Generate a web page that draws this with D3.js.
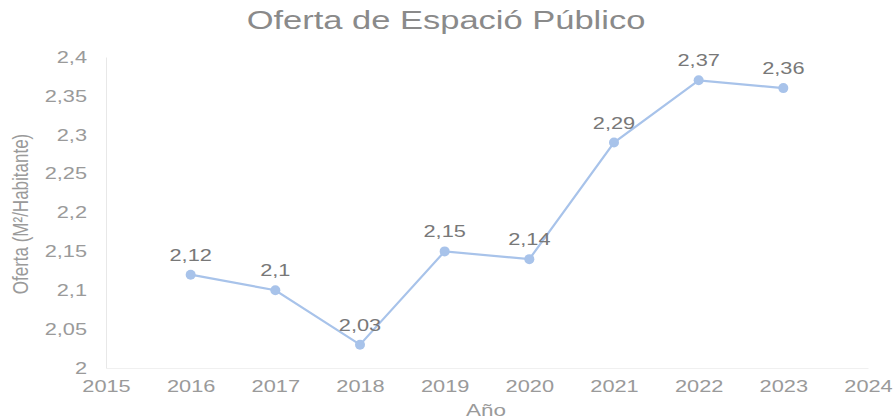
<!DOCTYPE html>
<html>
<head>
<meta charset="utf-8">
<script src="https://cdn.jsdelivr.net/npm/d3@7"></script>
<style>
  body { margin: 0; background: #fff; }
  text { font-family: "Liberation Sans", Arial, sans-serif; }
</style>
</head>
<body>
<div id="wrapper"></div>
<script>
// values
const years = [2016, 2017, 2018, 2019, 2020, 2021, 2022, 2023]
const oferta = [2.12, 2.1, 2.03, 2.15, 2.14, 2.29, 2.37, 2.36]
const yTicks = [2, 2.05, 2.1, 2.15, 2.2, 2.25, 2.3, 2.35, 2.4]
const xTicks = [2015, 2016, 2017, 2018, 2019, 2020, 2021, 2022, 2023, 2024]

const dataset = years.map((y, i) => ({ year: y, value: oferta[i] }))
const fmt = v => String(v).replace(".", ",")

// text in the picture is drawn a bit wide
const sx = 1.32

const dimensions = {
  width: 893,
  height: 418,
  margin: { top: 57, right: 25, bottom: 50, left: 106 },
}
dimensions.boundedWidth = dimensions.width - dimensions.margin.left - dimensions.margin.right
dimensions.boundedHeight = dimensions.height - dimensions.margin.top - dimensions.margin.bottom

const wrapper = d3.select("#wrapper")
  .append("svg")
  .attr("width", dimensions.width)
  .attr("height", dimensions.height)

const bounds = wrapper.append("g")
  .attr("transform", `translate(${dimensions.margin.left}, ${dimensions.margin.top})`)

const xScaler = d3.scaleLinear()
  .domain([2015, 2024])
  .range([0, 762])

const yScaler = d3.scaleLinear()
  .domain([2, 2.4])
  .range([dimensions.boundedHeight, 0])

// axes
const xAxis = bounds.append("g")
  .attr("transform", `translate(0, ${dimensions.boundedHeight})`)
  .call(d3.axisBottom(xScaler).tickValues(xTicks).tickFormat(d3.format("d")).tickSize(0).tickPadding(12))
xAxis.select(".domain").attr("stroke", "#f0f0f0")
xAxis.selectAll("text")
  .attr("fill", "#9a9a9a")
  .style("font-size", "16.5px")
  .attr("transform", `scale(${sx},1)`)

const yAxis = bounds.append("g")
  .call(d3.axisLeft(yScaler).tickValues(yTicks).tickFormat(fmt).tickSize(0))
yAxis.select(".domain").attr("stroke", "#e8e8e8")
yAxis.selectAll("text")
  .attr("fill", "#9a9a9a")
  .style("font-size", "16.5px")
  .attr("x", -19 / sx)
  .attr("transform", `scale(${sx},1)`)

// line + points
const line = d3.line()
  .x(d => xScaler(d.year))
  .y(d => yScaler(d.value))

bounds.append("path")
  .datum(dataset)
  .attr("fill", "none")
  .attr("stroke", "#a8c3ea")
  .attr("stroke-width", 2.2)
  .attr("d", line)

bounds.selectAll("circle")
  .data(dataset)
  .enter()
  .append("circle")
  .attr("cx", d => xScaler(d.year))
  .attr("cy", d => yScaler(d.value))
  .attr("r", 5)
  .attr("fill", "#a8c3ea")

bounds.selectAll(".lbl")
  .data(dataset)
  .enter()
  .append("text")
  .attr("class", "lbl")
  .attr("transform", d => `translate(${xScaler(d.year)}, ${yScaler(d.value) - 14}) scale(${sx},1)`)
  .attr("text-anchor", "middle")
  .attr("fill", "#787878")
  .style("font-size", "16.5px")
  .text(d => fmt(d.value))

// titles
wrapper.append("text")
  .attr("transform", `translate(446, 29) scale(1.38,1)`)
  .attr("text-anchor", "middle")
  .attr("fill", "#8a8a8a")
  .style("font-size", "25px")
  .text("Oferta de Espació Público")

wrapper.append("text")
  .attr("transform", `translate(28, 214) scale(${sx},1) rotate(-90)`)
  .attr("text-anchor", "middle")
  .attr("fill", "#9a9a9a")
  .style("font-size", "17px")
  .text("Oferta (M²/Habitante)")

wrapper.append("text")
  .attr("transform", `translate(486, 416) scale(${sx},1)`)
  .attr("text-anchor", "middle")
  .attr("fill", "#9a9a9a")
  .style("font-size", "17px")
  .text("Año")
</script>
</body>
</html>
